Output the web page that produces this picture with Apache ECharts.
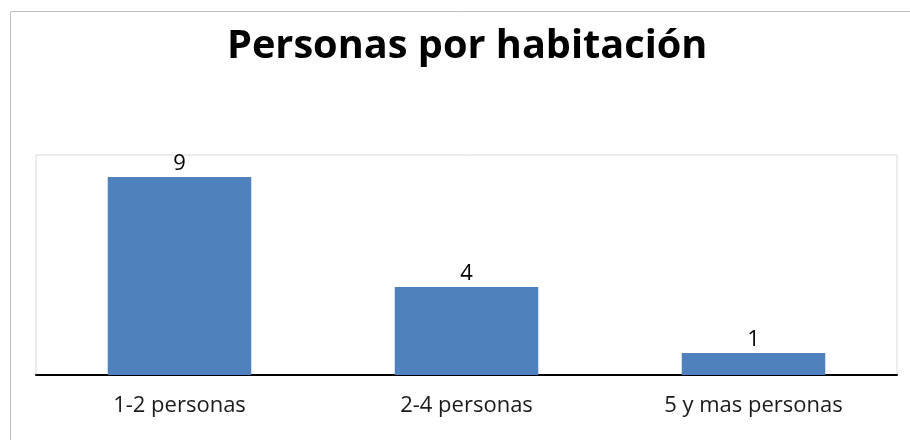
<!DOCTYPE html>
<html>
<head>
<meta charset="utf-8">
<script src="https://cdn.jsdelivr.net/npm/echarts@6/dist/echarts.min.js"></script>
<style>html,body{margin:0;padding:0;background:#fff}#c{width:910px;height:440px}</style>
</head>
<body>
<div id="c"></div>
<script>
const categories = ["1-2 personas", "2-4 personas", "5 y mas personas"];
const values = [9, 4, 1];
const titleText = "Personas por habitación";

const chart = echarts.init(document.getElementById('c'));
chart.setOption({
  animation: false,
  backgroundColor: '#fff',
  title: {
    text: titleText,
    left: 222,
    top: 22,
    textStyle: { fontFamily: 'Open Sans', fontWeight: 'bold', fontSize: 39.7, color: '#000' }
  },
  graphic: [{
    type: 'rect',
    shape: { x: 10.5, y: 11.5, width: 960, height: 500 },
    style: { fill: 'none', stroke: '#bfbfbf', lineWidth: 1 },
    silent: true
  }],
  grid: { left: 36, right: 13, top: 155, bottom: 65, show: true, borderColor: '#d9d9d9', borderWidth: 1 },
  xAxis: {
    type: 'category',
    data: categories,
    axisLine: { lineStyle: { color: '#000', width: 2 } },
    axisTick: { show: false },
    axisLabel: { fontFamily: 'Open Sans', fontSize: 22, color: '#1a1a1a', margin: 20 }
  },
  yAxis: {
    type: 'value', min: 0, max: 10, interval: 1,
    show: false,
    splitLine: { show: false }
  },
  series: [{
    type: 'bar',
    data: values,
    barCategoryGap: '50%',
    itemStyle: { color: '#4f81bd' },
    label: { show: true, position: 'top', distance: 2, fontFamily: 'Open Sans', fontSize: 22, color: '#000' }
  }]
});
</script>
</body>
</html>
